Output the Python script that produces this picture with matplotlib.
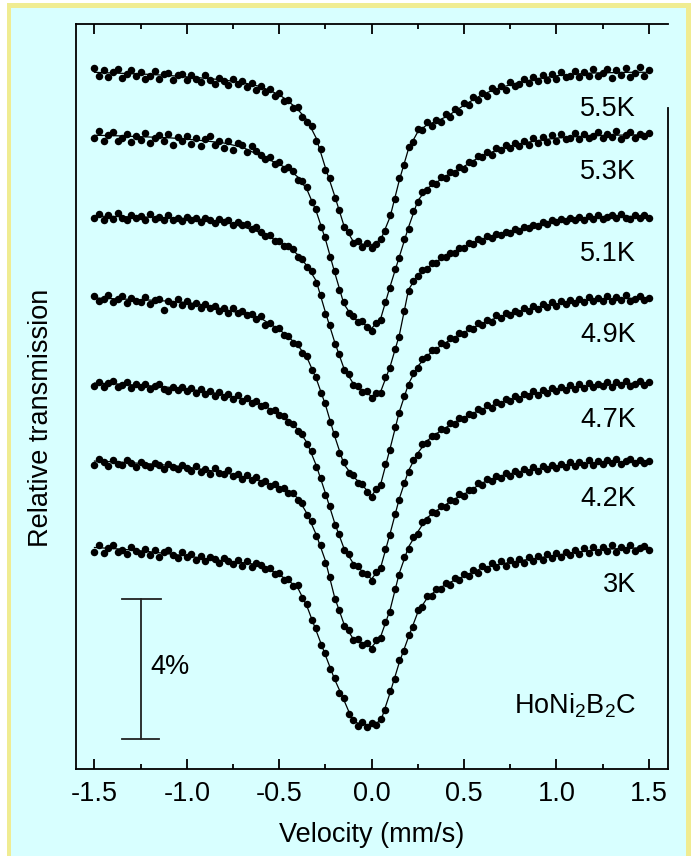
import matplotlib
matplotlib.use('Agg')
import matplotlib.pyplot as plt
import numpy as np
from matplotlib.patches import Rectangle

plt.rcParams['font.family'] = ['Liberation Sans', 'DejaVu Sans']
plt.rcParams['mathtext.fontset'] = 'custom'
plt.rcParams['mathtext.rm'] = 'Liberation Sans'
plt.rcParams['mathtext.it'] = 'Liberation Sans:italic'
plt.rcParams['axes.unicode_minus'] = False

# spectra labels and baseline offsets (in % of transmission)
temperatures = ['5.5K', '5.3K', '5.1K', '4.9K', '4.7K', '4.2K', '3K']
baselines = [19.93, 18.14, 15.80, 13.46, 11.03, 8.80, 6.33]

# fitted curves: absorption depth (%) at these velocities (mm/s)
velocity_fit = [-1.5, -1.4, -1.3, -1.2, -1.1, -1.0, -0.9, -0.8, -0.7, -0.6, -0.5,
                -0.45, -0.4, -0.35, -0.3, -0.25, -0.2, -0.15, -0.1, -0.05, 0.0,
                0.05, 0.1, 0.15, 0.2, 0.25, 0.3, 0.35, 0.4, 0.45, 0.5,
                0.6, 0.7, 0.8, 0.9, 1.0, 1.1, 1.2, 1.3, 1.4, 1.5]
fit_55 = [0.02, 0.04, 0.06, 0.08, 0.11, 0.15, 0.19, 0.24, 0.31, 0.43, 0.66,
          0.85, 1.08, 1.38, 1.90, 2.75, 3.55, 4.40, 4.85, 4.93, 4.95,
          4.80, 4.15, 3.10, 2.20, 1.72, 1.52, 1.42, 1.30, 1.14, 0.96,
          0.65, 0.45, 0.31, 0.20, 0.12, 0.07, 0.04, 0.03, 0.02, 0.02]
fit_53 = [0.03, 0.04, 0.06, 0.08, 0.10, 0.14, 0.19, 0.25, 0.37, 0.62, 0.86,
          1.00, 1.22, 1.58, 2.20, 3.00, 3.95, 4.85, 5.25, 5.40, 5.55,
          5.25, 4.35, 3.50, 2.65, 1.90, 1.55, 1.38, 1.20, 1.06, 0.92,
          0.60, 0.42, 0.27, 0.18, 0.11, 0.07, 0.04, 0.03, 0.02, 0.02]
fit_51 = [0.00, 0.01, 0.02, 0.03, 0.05, 0.07, 0.10, 0.17, 0.30, 0.47, 0.74,
          0.88, 1.10, 1.42, 1.85, 2.75, 3.60, 4.35, 4.78, 4.98, 5.15,
          5.00, 4.30, 3.40, 2.10, 1.68, 1.48, 1.30, 1.15, 1.01, 0.88,
          0.65, 0.50, 0.38, 0.25, 0.14, 0.08, 0.04, 0.02, 0.01, 0.00]
fit_49 = [0.00, 0.02, 0.04, 0.06, 0.09, 0.13, 0.20, 0.32, 0.45, 0.58, 0.90,
          1.12, 1.35, 1.70, 2.30, 3.05, 3.95, 4.75, 5.10, 5.35, 5.65,
          5.30, 4.30, 3.25, 2.45, 1.95, 1.65, 1.45, 1.28, 1.12, 0.98,
          0.72, 0.52, 0.38, 0.26, 0.17, 0.10, 0.05, 0.03, 0.01, 0.00]
fit_47 = [0.00, 0.02, 0.05, 0.08, 0.12, 0.17, 0.24, 0.33, 0.45, 0.60, 0.88,
          1.08, 1.32, 1.70, 2.35, 3.15, 4.00, 4.72, 5.15, 5.38, 5.60,
          5.25, 4.30, 3.30, 2.50, 2.00, 1.65, 1.45, 1.28, 1.12, 0.98,
          0.74, 0.55, 0.40, 0.28, 0.19, 0.12, 0.07, 0.04, 0.01, 0.00]
fit_42 = [0.00, 0.02, 0.05, 0.08, 0.12, 0.17, 0.25, 0.33, 0.44, 0.56, 0.75,
          0.88, 1.05, 1.50, 2.10, 2.85, 3.90, 4.65, 5.08, 5.20, 5.32,
          5.00, 4.25, 3.20, 2.45, 2.02, 1.62, 1.42, 1.25, 1.08, 0.95,
          0.62, 0.42, 0.30, 0.22, 0.15, 0.10, 0.06, 0.03, 0.01, 0.00]
fit_30 = [0.00, 0.03, 0.07, 0.12, 0.18, 0.24, 0.32, 0.38, 0.43, 0.50, 0.78,
          0.95, 1.15, 1.68, 2.38, 3.08, 3.77, 4.36, 4.98, 5.05, 5.07,
          4.95, 4.15, 3.28, 2.55, 1.85, 1.45, 1.22, 1.06, 0.93, 0.82,
          0.58, 0.47, 0.38, 0.30, 0.22, 0.14, 0.08, 0.04, 0.02, 0.00]
fits = [fit_55, fit_53, fit_51, fit_49, fit_47, fit_42, fit_30]

# measured points: absorption depth (%) in 121 channels from -1.5 to 1.5 mm/s
data_55 = [-0.10, 0.12, -0.05, 0.15, 0.02, -0.08, 0.18, 0.06, -0.04, 0.14,
           0.00, 0.20, 0.12, -0.02, 0.21, 0.08, 0.03, 0.25, 0.10, 0.06,
           0.25, 0.10, 0.22, 0.30, 0.11, 0.23, 0.35, 0.18, 0.28, 0.38,
           0.22, 0.36, 0.27, 0.45, 0.33, 0.52, 0.40, 0.58, 0.49, 0.70,
           0.62, 0.84, 0.80, 1.05, 1.02, 1.30, 1.45, 1.55, 1.98, 2.22,
           2.80, 3.05, 3.62, 3.95, 4.45, 4.58, 4.90, 4.85, 5.00, 4.90,
           5.03, 4.93, 4.78, 4.55, 4.10, 3.65, 3.05, 2.68, 2.15, 2.00,
           1.65, 1.68, 1.45, 1.55, 1.38, 1.45, 1.22, 1.30, 1.08, 1.15,
           0.90, 0.95, 0.74, 0.80, 0.60, 0.70, 0.48, 0.56, 0.40, 0.52,
           0.30, 0.40, 0.36, 0.20, 0.32, 0.15, 0.28, 0.10, 0.25, 0.08,
           0.20, 0.02, 0.15, 0.12, -0.02, 0.16, 0.00, 0.12, -0.06, 0.14,
           0.05, -0.08, 0.18, -0.04, 0.10, -0.10, 0.15, 0.04, -0.12, 0.12,
           -0.05]
data_53 = [0.12, -0.08, 0.20, 0.02, -0.06, 0.18, 0.10, -0.02, 0.22, 0.05,
           0.16, -0.04, 0.25, 0.12, 0.02, 0.20, -0.02, 0.30, 0.08, 0.18,
           0.05, 0.28, 0.12, 0.34, 0.15, 0.05, 0.30, 0.18, 0.38, 0.20,
           0.45, 0.26, 0.30, 0.50, 0.35, 0.48, 0.58, 0.70, 0.66, 0.85,
           0.80, 0.98, 0.95, 1.05, 1.30, 1.35, 1.52, 1.95, 2.15, 2.65,
           2.95, 3.50, 3.90, 4.45, 4.80, 5.10, 5.20, 5.38, 5.35, 5.52,
           5.62, 5.40, 5.30, 4.80, 4.40, 3.85, 3.55, 3.00, 2.70, 2.20,
           1.95, 1.66, 1.60, 1.40, 1.42, 1.22, 1.25, 1.08, 1.12, 0.95,
           0.98, 0.78, 0.82, 0.62, 0.66, 0.50, 0.58, 0.40, 0.46, 0.32,
           0.40, 0.24, 0.34, 0.18, 0.30, 0.12, 0.24, 0.08, 0.22, 0.02,
           0.18, 0.00, 0.15, 0.10, -0.04, 0.14, -0.02, 0.12, 0.06, -0.06,
           0.12, 0.00, 0.08, -0.08, 0.14, 0.02, -0.05, 0.10, -0.02, 0.06,
           -0.04]
data_51 = [0.05, -0.06, 0.10, -0.02, 0.08, -0.08, 0.04, 0.12, -0.04, 0.06,
           0.00, 0.10, -0.05, 0.08, 0.02, 0.12, -0.03, 0.10, 0.04, 0.14,
           0.02, 0.12, 0.06, 0.16, 0.05, 0.10, 0.20, 0.08, 0.18, 0.12,
           0.24, 0.16, 0.26, 0.22, 0.36, 0.30, 0.44, 0.58, 0.55, 0.70,
           0.70, 0.86, 0.84, 0.95, 1.16, 1.22, 1.45, 1.58, 1.90, 2.25,
           2.80, 3.12, 3.66, 3.95, 4.40, 4.52, 4.82, 4.85, 5.04, 5.00,
           5.20, 5.05, 5.06, 4.60, 4.35, 3.80, 3.45, 2.70, 2.15, 1.85,
           1.72, 1.55, 1.52, 1.35, 1.34, 1.18, 1.18, 1.04, 1.05, 0.92,
           0.92, 0.78, 0.80, 0.66, 0.70, 0.58, 0.62, 0.50, 0.54, 0.44,
           0.48, 0.38, 0.42, 0.30, 0.34, 0.24, 0.28, 0.18, 0.22, 0.12,
           0.18, 0.08, 0.14, 0.05, 0.12, 0.02, 0.10, 0.00, 0.08, -0.04,
           0.07, 0.02, -0.03, 0.06, -0.05, 0.04, 0.08, -0.04, 0.05, -0.02,
           0.04]
data_49 = [-0.06, 0.10, 0.02, -0.08, 0.12, 0.04, -0.05, 0.14, 0.00, 0.08,
           0.12, -0.02, 0.16, 0.06, 0.02, 0.34, 0.08, 0.18, 0.04, 0.20,
           0.10, 0.22, 0.14, 0.28, 0.16, 0.30, 0.22, 0.36, 0.28, 0.42,
           0.30, 0.44, 0.38, 0.50, 0.45, 0.60, 0.52, 0.76, 0.72, 0.90,
           0.85, 1.05, 1.08, 1.28, 1.32, 1.58, 1.65, 2.05, 2.25, 2.72,
           3.00, 3.55, 3.90, 4.42, 4.70, 5.00, 5.05, 5.28, 5.32, 5.55,
           5.70, 5.45, 5.35, 4.75, 4.35, 3.70, 3.30, 2.80, 2.50, 2.15,
           2.00, 1.75, 1.70, 1.50, 1.50, 1.30, 1.33, 1.15, 1.16, 1.00,
           1.02, 0.86, 0.90, 0.72, 0.78, 0.62, 0.70, 0.50, 0.58, 0.42,
           0.50, 0.36, 0.44, 0.28, 0.38, 0.22, 0.32, 0.18, 0.26, 0.12,
           0.22, 0.08, 0.18, 0.05, 0.15, 0.02, 0.12, -0.02, 0.10, 0.00,
           0.08, -0.06, 0.10, -0.02, 0.06, -0.08, 0.08, 0.02, -0.06, 0.06,
           0.00]
data_47 = [0.08, -0.04, 0.12, 0.00, -0.06, 0.10, 0.06, -0.02, 0.14, 0.04,
           0.10, 0.02, 0.18, 0.08, 0.04, 0.16, 0.22, 0.10, 0.20, 0.12,
           0.24, 0.14, 0.28, 0.18, 0.30, 0.22, 0.36, 0.26, 0.40, 0.30,
           0.46, 0.34, 0.50, 0.44, 0.58, 0.52, 0.66, 0.62, 0.80, 0.78,
           0.92, 0.95, 1.12, 1.16, 1.38, 1.46, 1.75, 1.95, 2.40, 2.70,
           3.20, 3.52, 4.05, 4.32, 4.78, 4.90, 5.20, 5.22, 5.42, 5.45,
           5.65, 5.40, 5.30, 4.75, 4.35, 3.75, 3.35, 2.85, 2.55, 2.20,
           2.05, 1.75, 1.70, 1.50, 1.50, 1.30, 1.33, 1.15, 1.18, 1.00,
           1.03, 0.88, 0.92, 0.74, 0.80, 0.64, 0.70, 0.54, 0.60, 0.46,
           0.52, 0.38, 0.46, 0.30, 0.38, 0.24, 0.34, 0.20, 0.28, 0.14,
           0.24, 0.10, 0.20, 0.06, 0.18, 0.04, 0.14, 0.00, 0.10, 0.02,
           0.08, -0.04, 0.10, -0.02, 0.06, -0.06, 0.08, 0.02, -0.05, 0.06,
           -0.02]
data_42 = [0.10, -0.05, 0.04, 0.14, -0.02, 0.08, 0.12, -0.04, 0.06, 0.16,
           0.02, 0.12, 0.18, 0.06, 0.10, 0.22, 0.08, 0.16, 0.24, 0.12,
           0.20, 0.28, 0.14, 0.30, 0.22, 0.36, 0.20, 0.34, 0.38, 0.26,
           0.42, 0.36, 0.50, 0.40, 0.55, 0.46, 0.62, 0.58, 0.72, 0.66,
           0.80, 0.76, 0.92, 0.90, 1.10, 1.20, 1.55, 1.72, 2.15, 2.40,
           2.90, 3.32, 3.95, 4.25, 4.70, 4.82, 5.12, 5.08, 5.25, 5.20,
           5.38, 5.12, 5.05, 4.60, 4.30, 3.66, 3.25, 2.75, 2.50, 2.16,
           2.08, 1.75, 1.68, 1.46, 1.48, 1.28, 1.30, 1.10, 1.14, 0.95,
           1.00, 0.82, 0.84, 0.64, 0.68, 0.52, 0.58, 0.42, 0.48, 0.34,
           0.42, 0.28, 0.36, 0.22, 0.32, 0.18, 0.28, 0.14, 0.24, 0.10,
           0.20, 0.08, 0.16, 0.04, 0.14, 0.02, 0.12, -0.02, 0.10, 0.00,
           0.08, -0.04, 0.06, -0.06, 0.08, 0.00, -0.06, 0.06, -0.03, 0.05,
           0.00]
data_30 = [0.12, -0.06, 0.16, 0.02, -0.08, 0.14, 0.06, 0.20, -0.02, 0.10,
           0.18, 0.04, 0.22, 0.08, 0.26, 0.12, 0.06, 0.22, 0.30, 0.12,
           0.28, 0.18, 0.36, 0.24, 0.40, 0.26, 0.34, 0.44, 0.30, 0.40,
           0.48, 0.36, 0.52, 0.40, 0.55, 0.44, 0.50, 0.62, 0.60, 0.76,
           0.74, 0.92, 0.90, 1.10, 1.08, 1.45, 1.62, 2.08, 2.30, 2.78,
           3.02, 3.48, 3.72, 4.15, 4.30, 4.75, 4.92, 5.10, 4.98, 5.12,
           5.02, 5.08, 4.90, 4.65, 4.10, 3.75, 3.22, 2.95, 2.50, 2.26,
           1.80, 1.70, 1.40, 1.38, 1.18, 1.20, 1.02, 1.06, 0.88, 0.94,
           0.76, 0.82, 0.64, 0.72, 0.52, 0.62, 0.45, 0.56, 0.40, 0.52,
           0.36, 0.48, 0.32, 0.44, 0.28, 0.40, 0.24, 0.36, 0.20, 0.30,
           0.16, 0.26, 0.12, 0.22, 0.06, 0.20, 0.02, 0.16, -0.02, 0.12,
           0.00, 0.10, -0.06, 0.12, -0.02, 0.08, -0.06, 0.10, 0.02, -0.04,
           0.06]
spectra = [data_55, data_53, data_51, data_49, data_47, data_42, data_30]
velocity_data = np.linspace(-1.5, 1.5, 121)

px_w, px_h = 691, 856
yellow = '#f0ec92'
cyan = '#d8ffff'
fs = 19.5

fig = plt.figure(figsize=(px_w / 100, px_h / 100), dpi=100)
fig.patch.set_facecolor('white')
fig.patches.append(Rectangle((7 / px_w, 0), 684 / px_w, 853 / px_h, transform=fig.transFigure,
                             facecolor=yellow, edgecolor='none', zorder=-3))
fig.patches.append(Rectangle((11 / px_w, 0), 675 / px_w, 848 / px_h, transform=fig.transFigure,
                             facecolor=cyan, edgecolor='none', zorder=-2))

ax = fig.add_axes([76 / px_w, 87 / px_h, 592 / px_w, 745 / px_h])
ax.set_facecolor('none')

for base, fit, data, label in zip(baselines, fits, spectra, temperatures):
    ax.plot(velocity_fit, base - np.array(fit), color='black', linewidth=0.9, zorder=2)
    ax.plot(velocity_data, base - np.array(data), 'o', color='black', markersize=5.4,
            markeredgewidth=0, zorder=3)
    ax.text(1.43, base - 1.07, label, fontsize=fs, ha='right', va='center')

ax.text(1.43, 1.8, r'HoNi$_2$B$_2$C', fontsize=fs, ha='right', va='center')

# 4% scale bar
ax.plot([-1.25, -1.25], [0.86, 4.86], color='#222222', linewidth=1.3)
ax.plot([-1.35, -1.14], [4.86, 4.86], color='#222222', linewidth=1.3)
ax.plot([-1.35, -1.15], [0.86, 0.86], color='#222222', linewidth=1.3)
ax.text(-1.2, 2.91, '4%', fontsize=fs, ha='left', va='center')

ax.set_xlim(-1.6, 1.604)
ax.set_ylim(0, 21.29)
ax.set_xticks([-1.5, -1.0, -0.5, 0.0, 0.5, 1.0, 1.5])
ax.set_xticklabels(['-1.5', '-1.0', '-0.5', '0.0', '0.5', '1.0', '1.5'])
ax.set_xticks(np.arange(-1.25, 1.5, 0.5), minor=True)
ax.set_yticks([])
ax.tick_params(axis='x', which='both', direction='in', top=True, width=1.3,
               labelsize=fs, pad=8.5)
ax.tick_params(axis='x', which='major', length=7)
ax.tick_params(axis='x', which='minor', length=3.5)
for s in ax.spines.values():
    s.set_linewidth(1.3)
ax.spines['right'].set_bounds(0, 18.9)

ax.set_xlabel('Velocity (mm/s)', fontsize=fs, va='top')
ax.xaxis.set_label_coords(0.5, -0.071)
ax.set_ylabel('Relative transmission', fontsize=fs)
ax.yaxis.set_label_coords(-0.037, 0.471)

fig.savefig('out.png', dpi=100, facecolor=fig.get_facecolor())
